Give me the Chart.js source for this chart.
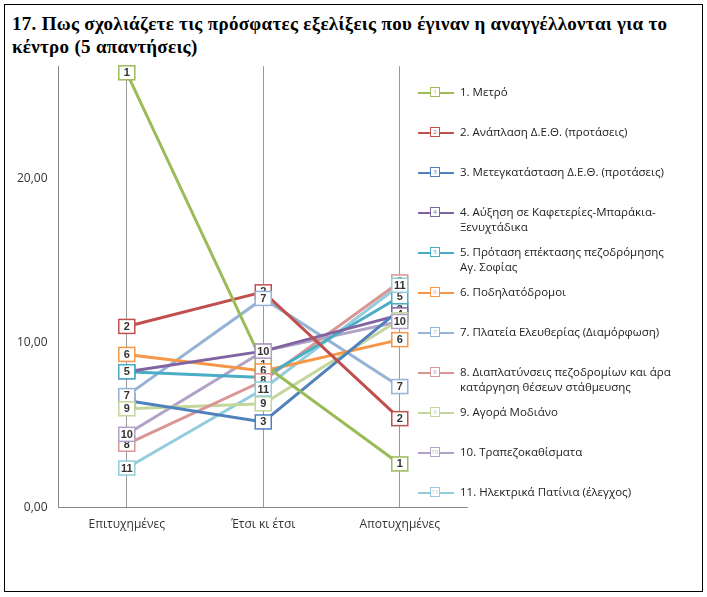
<!DOCTYPE html>
<html><head><meta charset="utf-8">
<script src="https://cdn.jsdelivr.net/npm/chart.js@4/dist/chart.umd.min.js"></script>
<style>
body{margin:0;background:#fff;}
#frame{position:absolute;left:4px;top:4px;width:697px;height:586px;border:1px solid #000;}
#title{position:absolute;left:12px;top:12px;width:690px;font:bold 19px "Liberation Serif",serif;line-height:23px;white-space:nowrap;letter-spacing:0.3px;}
#wrap{position:absolute;left:0;top:56px;width:468px;height:486px;}
#legend{position:absolute;left:418px;top:84px;width:270px;font:11.5px "Open Sans",sans-serif;color:#222;}
.it{position:relative;padding-left:42px;margin-bottom:0;}
.it .ln{position:absolute;left:0;top:8px;width:36px;height:2px;}
.it .mk{position:absolute;left:12px;top:3px;width:8px;height:8px;border:1.5px solid;background:#fff;font-size:6px;line-height:8px;text-align:center;}
</style></head><body>
<div id="frame"></div>
<div id="title">17. Πως σχολιάζετε τις πρόσφατες εξελίξεις που έγιναν η αναγγέλλονται για το<br>κέντρο (5 απαντήσεις)</div>
<div id="wrap"><canvas id="c"></canvas></div>
<div id="legend"></div>
<script>
const categories = ["Επιτυχημένες", "Έτσι κι έτσι", "Αποτυχημένες"];
const seriesNames = ["1. Μετρό", "2. Ανάπλαση Δ.Ε.Θ. (προτάσεις)", "3. Μετεγκατάσταση Δ.Ε.Θ. (προτάσεις)",
  "4. Αύξηση σε Καφετερίες-Μπαράκια-Ξενυχτάδικα", "5. Πρόταση επέκτασης πεζοδρόμησης<br>Αγ. Σοφίας",
  "6. Ποδηλατόδρομοι", "7. Πλατεία Ελευθερίας (Διαμόρφωση)",
  "8. Διαπλατύνσεις πεζοδρομίων και άρα κατάργηση θέσεων στάθμευσης", "9. Αγορά Μοδιάνο",
  "10. Τραπεζοκαθίσματα", "11. Ηλεκτρικά Πατίνια (έλεγχος)"];
const values = [
  [26.4, 8.7, 2.65], [11.0, 13.1, 5.4], [6.5, 5.2, 12.0], [8.25, 9.5, 11.7],
  [8.25, 7.9, 12.8], [9.3, 8.3, 10.2], [6.8, 12.7, 7.35], [3.85, 7.7, 13.7],
  [6.0, 6.3, 11.4], [4.45, 9.5, 11.3], [2.4, 7.2, 13.5]];
const colors = ["#9BBB59", "#C0504D", "#4F81BD", "#8064A2", "#4BACC6", "#F79646",
  "#95B3D7", "#D99694", "#C3D69B", "#B3A2C7", "#93CDDD"];
const legendGaps = [40, 40, 40, 40, 40, 40, 40, 40, 40, 40, 40];

const leg = document.getElementById("legend");
seriesNames.forEach((n, i) => {
  const d = document.createElement("div");
  d.className = "it";
  d.style.minHeight = legendGaps[i] + "px";
  d.innerHTML = `<span class="ln" style="background:${colors[i]}"></span><span class="mk" style="border-color:${colors[i]};color:${colors[i]}">${i + 1}</span>${n}`;
  leg.appendChild(d);
});

const labelPlugin = {
  id: "nums",
  afterDatasetsDraw(chart) {
    const ctx = chart.ctx;
    chart.data.datasets.forEach((ds, i) => {
      chart.getDatasetMeta(i).data.forEach(p => {
        ctx.save();
        ctx.fillStyle = "#fff";
        ctx.strokeStyle = colors[i];
        ctx.lineWidth = 1.5;
        ctx.fillRect(p.x - 8, p.y - 7, 16, 14);
        ctx.strokeRect(p.x - 8, p.y - 7, 16, 14);
        ctx.fillStyle = "#333";
        ctx.font = "bold 11px 'Liberation Sans', sans-serif";
        ctx.textAlign = "center";
        ctx.textBaseline = "middle";
        ctx.fillText(String(i + 1), p.x, p.y + 0.5);
        ctx.restore();
      });
    });
  }
};

new Chart(document.getElementById("c"), {
  type: "line",
  data: {
    labels: categories,
    datasets: values.map((v, i) => ({
      label: seriesNames[i], data: v, borderColor: colors[i], borderWidth: 3,
      pointRadius: 0, tension: 0, fill: false
    }))
  },
  options: {
    responsive: true, maintainAspectRatio: false, animation: false,
    layout: { padding: { left: 14, right: 0, top: 0, bottom: 0 } },
    plugins: { legend: { display: false }, tooltip: { enabled: false } },
    scales: {
      x: {
        offset: true,
        grid: { color: "#999", offset: false, drawTicks: false },
        border: { color: "#888" },
        ticks: { color: "#333", font: { family: "Open Sans", size: 12 }, padding: 10 }
      },
      y: {
        min: 0, max: 26.8,
        afterBuildTicks(s) { s.ticks = [0, 10, 20].map(v => ({ value: v })); },
        grid: { display: false },
        border: { color: "#888" },
        ticks: { color: "#333", font: { family: "Open Sans", size: 12 },
          callback: v => v.toFixed(2).replace(".", ",") }
      }
    }
  },
  plugins: [labelPlugin]
});
</script>
</body></html>
